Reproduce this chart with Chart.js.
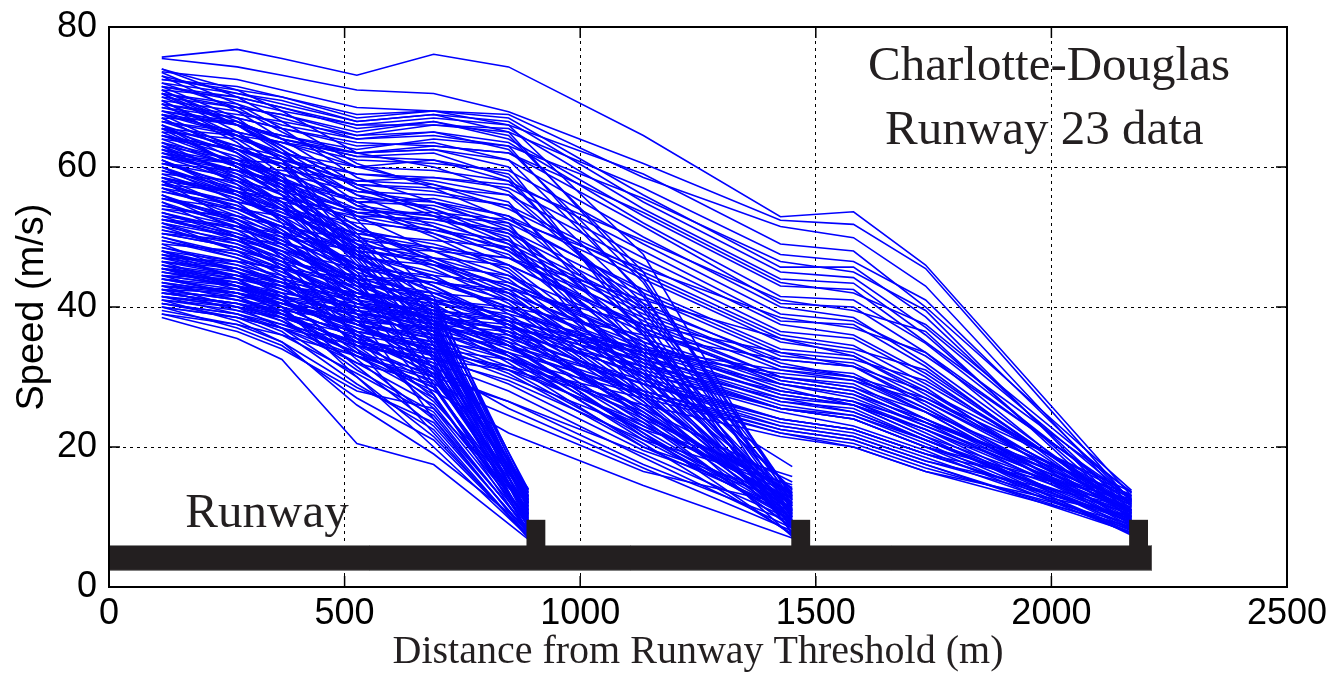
<!DOCTYPE html>
<html>
<head>
<meta charset="utf-8">
<script src="https://cdn.jsdelivr.net/npm/chart.js@4.4.1/dist/chart.umd.min.js"></script>
<style>
html,body{margin:0;padding:0;background:#fff;}
#wrap{width:1331px;height:676px;position:relative;}
</style>
</head>
<body>
<div id="wrap"><canvas id="c" width="1331" height="676"></canvas></div>
<script>
// ---- tick labels ----
const xTickValues = [0, 500, 1000, 1500, 2000, 2500];
const yTickValues = [0, 20, 40, 60, 80];

// ---- runway geometry (metres / m/s units) ----
const runwayExtent = [0, 2213];
const runwayBand = [2.3, 6.0];
const exitStarts = [886, 1448, 2165];
const exitWidth = 40;
const exitTop = 9.6;

// ---- trajectories that leave at the first exit ----
const exit1Distance = [112, 272, 367, 526, 689, 890];
const exit1Speeds = [
  [38.5, 35.5, 32.5, 20.5, 17.5, 6.8],
  [40.0, 37.0, 34.5, 27.0, 21.0, 7.4],
  [40.5, 38.5, 36.0, 30.5, 24.5, 8.2],
  [41.5, 39.0, 36.5, 29.0, 22.5, 7.0],
  [42.0, 40.5, 38.0, 32.0, 26.0, 9.5],
  [42.5, 39.5, 37.5, 33.5, 28.5, 10.8],
  [43.5, 41.0, 39.5, 34.0, 27.5, 8.8],
  [44.0, 42.0, 40.0, 35.5, 30.5, 11.6],
  [45.0, 43.5, 41.0, 36.0, 31.0, 12.4],
  [45.5, 42.5, 40.5, 37.0, 33.0, 13.2],
  [46.0, 44.0, 42.5, 38.5, 34.5, 12.0],
  [47.0, 44.5, 42.0, 35.0, 29.0, 9.2],
  [48.5, 46.0, 43.5, 37.5, 32.0, 10.4],
  [49.5, 47.0, 45.0, 39.5, 35.5, 13.6],
  [50.5, 48.5, 46.0, 40.5, 36.5, 11.2],
  [51.5, 48.0, 45.5, 38.0, 31.5, 8.6],
  [52.5, 50.0, 47.5, 42.0, 38.0, 12.8],
  [53.5, 50.5, 48.0, 41.0, 34.0, 9.8],
  [54.5, 52.0, 49.5, 44.0, 39.5, 13.9],
  [55.5, 52.5, 49.0, 42.5, 36.0, 10.6],
  [56.5, 54.0, 51.5, 45.5, 40.5, 11.9],
  [57.5, 54.5, 51.0, 43.0, 33.5, 8.4],
  [58.5, 55.5, 52.5, 46.0, 37.5, 12.6],
  [59.5, 56.0, 53.0, 44.5, 35.0, 9.0],
  [60.5, 57.5, 54.5, 47.5, 41.0, 13.4],
  [61.5, 58.0, 54.0, 45.0, 32.5, 7.8],
  [62.5, 59.5, 56.0, 48.5, 38.5, 11.4],
  [63.5, 60.0, 57.5, 46.5, 36.5, 10.2],
  [64.5, 61.5, 58.0, 49.0, 39.0, 12.2],
  [65.5, 62.0, 58.5, 47.0, 34.5, 9.4],
  [66.5, 63.0, 60.0, 50.5, 40.0, 13.0],
  [67.5, 64.5, 61.0, 48.0, 37.0, 10.0],
  [44.5, 41.5, 38.5, 31.0, 25.0, 8.0],
  [41.0, 38.0, 35.0, 28.5, 23.5, 7.6],
  [46.5, 43.0, 39.0, 33.0, 27.0, 9.6],
  [48.0, 45.5, 43.0, 36.5, 30.0, 11.0],
  [43.0, 40.0, 37.0, 30.0, 20.0, 7.2],
  [39.5, 37.5, 35.0, 26.0, 19.0, 8.4],
  [57.0, 53.0, 50.0, 41.5, 28.5, 9.2],
  [62.0, 58.5, 55.0, 44.0, 30.0, 10.4],
  [50.0, 47.0, 44.0, 34.5, 26.5, 11.8],
  [53.0, 49.5, 46.5, 39.0, 33.0, 12.2],
  [70.5, 65.0, 61.0, 50.0, 38.0, 11.0],
  [69.0, 63.5, 59.0, 47.5, 35.5, 9.6],
  [66.0, 60.0, 56.0, 44.0, 29.0, 8.0],
  [63.0, 57.5, 52.0, 40.0, 27.5, 7.6],
  [60.0, 55.0, 50.5, 39.0, 24.0, 7.2],
  [58.0, 52.0, 47.0, 35.5, 25.5, 8.8],
  [55.0, 50.0, 45.5, 34.0, 22.0, 7.0],
  [52.0, 48.0, 44.5, 36.0, 27.0, 9.8],
  [49.0, 45.0, 41.5, 32.5, 24.0, 8.4],
  [47.5, 44.0, 41.0, 33.5, 28.5, 10.6],
  [45.5, 43.0, 40.0, 31.5, 23.0, 7.8],
  [43.0, 41.5, 39.0, 34.5, 30.0, 12.6],
  [41.5, 40.0, 38.5, 35.0, 31.5, 13.8],
  [40.0, 38.5, 37.0, 33.0, 29.5, 12.8],
  [39.0, 36.5, 34.0, 28.0, 25.5, 11.2],
  [44.0, 43.0, 41.5, 37.5, 33.5, 14.0],
  [46.5, 45.0, 43.5, 39.0, 36.0, 13.0],
  [51.0, 49.0, 47.0, 42.5, 37.0, 12.0],
  [54.0, 51.5, 49.0, 43.5, 37.5, 11.6],
  [61.0, 56.0, 52.5, 43.5, 33.0, 10.2],
  [67.0, 62.0, 57.0, 46.0, 31.0, 9.0],
  [71.5, 67.0, 62.5, 52.5, 41.5, 12.4],
  [56.0, 51.0, 47.5, 38.0, 30.5, 10.8],
  [48.0, 44.0, 40.0, 30.0, 21.5, 7.4]
];

// ---- trajectories that leave at the second exit ----
const exit2Distance = [112, 272, 367, 526, 689, 848, 1134, 1450];
const exit2Speeds = [
  [72.5, 71.5, 70.0, 67.0, 68.0, 66.0, 47.5, 11.6],
  [71.5, 70.0, 68.5, 65.5, 66.5, 64.5, 45.0, 10.2],
  [70.0, 68.5, 67.5, 64.5, 65.0, 62.5, 43.5, 12.8],
  [69.0, 67.0, 65.5, 63.0, 63.5, 61.0, 42.0, 9.0],
  [68.0, 66.5, 64.0, 61.5, 61.0, 59.0, 40.5, 13.4],
  [67.5, 65.0, 63.5, 60.0, 59.5, 58.0, 38.5, 8.2],
  [66.5, 64.5, 62.0, 59.0, 58.0, 56.0, 39.5, 11.0],
  [65.5, 63.0, 61.5, 57.5, 56.5, 54.5, 36.5, 10.0],
  [64.5, 62.5, 60.0, 56.5, 55.0, 53.0, 37.0, 12.4],
  [63.5, 61.0, 59.0, 55.0, 54.5, 51.5, 35.0, 9.4],
  [62.5, 60.5, 58.5, 54.0, 52.5, 50.5, 34.0, 14.0],
  [61.5, 59.0, 57.0, 53.0, 51.0, 48.5, 33.5, 7.8],
  [60.5, 58.5, 56.0, 52.5, 50.5, 47.5, 32.0, 11.8],
  [59.5, 57.0, 55.5, 51.0, 49.0, 46.0, 31.5, 10.6],
  [58.5, 56.5, 54.0, 50.5, 48.5, 45.5, 30.0, 13.0],
  [57.5, 55.0, 53.5, 49.0, 47.0, 44.0, 29.5, 8.8],
  [56.5, 54.5, 52.0, 48.0, 46.5, 43.0, 30.5, 17.2],
  [55.5, 53.0, 51.5, 47.5, 45.0, 42.0, 28.0, 9.6],
  [54.5, 52.5, 50.5, 46.0, 44.0, 41.0, 27.5, 12.0],
  [53.5, 51.0, 49.5, 45.5, 43.5, 40.0, 26.5, 7.2],
  [52.5, 50.5, 48.5, 44.0, 42.0, 38.5, 26.0, 11.2],
  [51.5, 49.5, 47.0, 43.5, 41.5, 37.5, 25.0, 10.4],
  [50.5, 48.5, 46.5, 42.0, 40.0, 36.5, 24.5, 13.6],
  [49.5, 47.5, 45.5, 41.5, 39.0, 35.5, 23.5, 8.6],
  [48.5, 46.5, 44.0, 40.5, 38.5, 34.5, 23.0, 12.6],
  [47.5, 45.5, 43.5, 39.5, 37.0, 33.5, 22.0, 9.8],
  [46.5, 44.5, 42.5, 38.5, 36.5, 32.5, 21.5, 11.4],
  [45.5, 43.5, 41.5, 37.5, 35.0, 31.0, 20.5, 7.6],
  [44.5, 43.0, 40.5, 36.5, 34.5, 30.5, 20.0, 10.8],
  [43.5, 42.0, 40.0, 35.5, 33.0, 29.0, 19.5, 12.2],
  [42.5, 41.0, 39.0, 34.5, 32.0, 28.0, 18.5, 8.4],
  [41.5, 40.0, 38.0, 33.5, 30.5, 26.5, 17.5, 9.2],
  [40.5, 39.0, 37.0, 32.0, 29.0, 24.5, 16.5, 11.6],
  [44.0, 42.0, 39.5, 33.0, 28.0, 22.0, 14.5, 7.0],
  [46.0, 43.0, 41.0, 36.0, 31.5, 25.5, 17.0, 8.0],
  [64.0, 60.0, 57.0, 50.0, 46.0, 41.5, 30.0, 10.8],
  [70.5, 66.0, 62.5, 56.0, 51.5, 48.0, 34.5, 12.0],
  [66.0, 62.5, 60.5, 54.5, 53.0, 50.0, 27.0, 9.0],
  [68.5, 66.0, 64.5, 62.0, 62.5, 60.0, 36.0, 13.8],
  [62.0, 59.5, 58.0, 55.5, 55.0, 52.0, 28.5, 10.0],
  [59.0, 55.5, 53.0, 47.0, 43.0, 38.0, 24.0, 8.4],
  [56.0, 52.0, 49.0, 43.0, 39.5, 35.0, 21.5, 9.6],
  [42.0, 40.5, 38.5, 35.0, 32.5, 29.5, 21.0, 14.6],
  [45.0, 43.0, 41.0, 37.0, 34.0, 30.0, 22.5, 15.8],
  [48.0, 45.0, 42.5, 38.0, 35.5, 31.5, 23.0, 13.2],
  [52.0, 49.0, 46.0, 41.0, 38.0, 33.0, 22.5, 10.2],
  [58.0, 54.0, 51.0, 45.0, 41.0, 36.0, 25.5, 11.0],
  [61.0, 57.0, 54.0, 47.5, 44.5, 39.0, 26.5, 9.2],
  [74.0, 71.0, 68.0, 62.0, 60.0, 56.5, 40.0, 12.6],
  [73.5, 69.0, 65.5, 58.5, 55.0, 51.0, 36.0, 10.4],
  [71.0, 66.5, 63.0, 57.0, 54.0, 49.5, 33.0, 9.4],
  [69.5, 64.5, 61.0, 54.5, 50.0, 45.0, 30.5, 8.6],
  [67.0, 62.0, 58.0, 51.5, 47.0, 42.5, 29.0, 11.6],
  [65.0, 60.5, 56.5, 49.5, 45.5, 40.5, 27.0, 13.2],
  [63.0, 59.0, 55.0, 48.0, 43.0, 37.0, 24.5, 9.8],
  [60.0, 56.0, 52.5, 45.5, 40.5, 34.5, 22.0, 7.4],
  [57.0, 53.5, 50.5, 44.5, 40.0, 33.0, 21.0, 10.0],
  [55.0, 51.5, 48.5, 42.5, 38.0, 32.0, 20.0, 12.8],
  [50.0, 47.5, 45.0, 40.5, 37.5, 33.5, 24.0, 14.2],
  [47.0, 45.5, 43.5, 40.0, 37.5, 34.5, 25.5, 15.0],
  [43.0, 42.0, 40.5, 37.5, 35.5, 32.5, 24.5, 13.4],
  [41.0, 40.0, 39.0, 36.5, 34.0, 31.0, 23.5, 12.2],
  [39.0, 37.5, 36.0, 33.0, 30.0, 26.5, 19.0, 9.6],
  [45.5, 44.5, 43.0, 39.5, 36.5, 33.0, 25.0, 11.8],
  [52.5, 50.0, 48.0, 43.5, 41.0, 37.5, 27.5, 10.6],
  [58.5, 56.0, 54.0, 50.0, 48.0, 44.5, 32.5, 12.4],
  [61.5, 59.5, 57.5, 53.5, 52.0, 49.0, 31.0, 8.8],
  [64.5, 62.5, 61.0, 58.0, 57.5, 55.0, 33.5, 10.8],
  [67.5, 66.0, 64.0, 61.5, 62.0, 58.5, 37.5, 7.6],
  [70.5, 69.0, 67.0, 64.0, 64.5, 63.0, 41.5, 11.2],
  [72.0, 70.5, 69.5, 66.5, 67.5, 65.0, 44.0, 13.0]
];

// ---- trajectories that leave at the third exit ----
const exit3Distance = [112, 272, 367, 526, 689, 848, 1134, 1425, 1580, 1733, 2170];
const exit3Speeds = [
  [75.7, 76.8, 75.5, 73.1, 76.1, 74.3, 64.5, 52.9, 53.6, 46.0, 13.0],
  [75.5, 74.3, 73.1, 71.0, 70.5, 67.9, 60.5, 52.4, 51.8, 45.5, 12.2],
  [73.6, 72.5, 71.0, 68.5, 68.0, 67.5, 58.5, 51.5, 49.9, 43.0, 11.5],
  [72.5, 71.0, 70.0, 67.5, 68.0, 67.0, 56.0, 45.7, 45.7, 38.6, 11.0],
  [73.0, 70.5, 69.0, 66.5, 67.5, 66.5, 55.0, 45.0, 44.2, 37.1, 12.6],
  [71.0, 70.0, 68.5, 66.0, 66.0, 65.5, 54.0, 44.0, 43.4, 36.0, 10.4],
  [70.5, 68.5, 67.5, 65.0, 66.5, 64.0, 53.0, 43.0, 42.5, 35.0, 13.6],
  [69.5, 68.0, 66.0, 64.0, 65.0, 63.5, 52.0, 41.5, 41.0, 34.8, 11.8],
  [68.5, 67.0, 65.5, 63.5, 63.0, 62.0, 51.5, 40.5, 40.0, 33.5, 9.6],
  [67.0, 66.5, 64.0, 62.0, 62.5, 61.0, 50.0, 40.0, 38.5, 32.0, 10.8],
  [66.5, 65.0, 63.5, 61.0, 60.5, 59.5, 49.0, 39.0, 38.0, 33.0, 12.8],
  [65.0, 64.0, 62.0, 60.0, 61.0, 58.0, 48.0, 38.0, 37.5, 31.5, 9.8],
  [64.0, 62.5, 61.0, 59.0, 58.5, 57.0, 47.0, 37.5, 36.0, 30.5, 11.2],
  [63.0, 61.0, 60.5, 57.5, 57.0, 56.0, 46.0, 36.5, 35.5, 30.0, 10.2],
  [62.0, 60.5, 59.0, 56.5, 56.0, 54.5, 45.0, 36.0, 34.5, 29.0, 12.2],
  [60.5, 59.5, 58.0, 55.0, 55.5, 53.0, 44.0, 35.0, 33.5, 28.5, 8.8],
  [59.0, 58.0, 56.5, 54.0, 53.0, 52.0, 42.5, 34.0, 33.0, 27.5, 10.0],
  [58.0, 56.5, 55.0, 53.0, 52.5, 51.0, 41.5, 33.0, 32.0, 27.0, 11.6],
  [57.0, 55.0, 54.0, 52.0, 51.0, 49.5, 40.0, 32.5, 31.5, 26.0, 9.2],
  [55.5, 54.0, 53.0, 50.5, 49.5, 48.5, 39.0, 31.5, 30.5, 25.5, 10.6],
  [54.0, 53.0, 51.5, 49.5, 48.5, 47.0, 38.5, 31.0, 29.5, 25.0, 8.6],
  [53.0, 51.5, 50.0, 48.0, 47.0, 46.0, 37.5, 30.0, 29.0, 24.0, 12.0],
  [52.0, 50.0, 49.0, 47.0, 46.0, 44.5, 36.5, 29.5, 28.0, 23.5, 9.0],
  [50.5, 49.5, 48.0, 45.5, 44.5, 43.5, 35.5, 29.0, 27.5, 23.0, 10.8],
  [49.0, 48.0, 46.5, 44.5, 43.5, 42.0, 34.5, 28.0, 26.5, 22.0, 8.2],
  [48.0, 46.5, 45.5, 43.0, 42.0, 41.0, 33.5, 27.5, 26.0, 21.5, 11.0],
  [46.5, 45.5, 44.0, 42.0, 41.0, 39.5, 33.0, 27.0, 25.0, 21.0, 9.6],
  [45.5, 44.0, 43.0, 41.0, 39.5, 38.5, 32.0, 26.0, 24.5, 20.5, 8.0],
  [45.0, 43.5, 42.0, 40.0, 38.5, 37.5, 31.0, 25.5, 24.0, 20.0, 10.4],
  [44.0, 42.5, 41.5, 39.0, 37.5, 36.5, 30.5, 25.0, 23.0, 19.5, 7.6],
  [43.5, 42.0, 40.5, 38.0, 37.0, 35.5, 29.5, 24.0, 22.5, 19.0, 9.4],
  [42.5, 41.0, 40.0, 37.5, 36.0, 34.5, 29.0, 23.5, 22.0, 18.5, 8.4],
  [42.0, 40.5, 39.0, 36.5, 35.0, 33.5, 28.0, 23.0, 21.5, 18.0, 10.0],
  [41.0, 39.5, 38.5, 36.0, 34.0, 32.5, 27.5, 22.5, 21.0, 17.5, 7.8],
  [40.5, 39.0, 37.5, 35.0, 33.5, 31.5, 27.0, 22.0, 20.5, 17.0, 9.0],
  [40.0, 38.5, 37.0, 34.5, 32.5, 31.0, 26.0, 21.5, 20.0, 16.5, 8.6],
  [70.0, 66.0, 63.0, 57.0, 53.0, 48.0, 38.0, 30.0, 28.5, 24.0, 9.8],
  [66.0, 61.0, 57.5, 51.0, 46.5, 42.0, 34.0, 27.5, 26.0, 22.5, 11.4],
  [72.0, 68.5, 65.0, 60.0, 57.5, 54.0, 44.5, 35.5, 33.0, 28.0, 10.6],
  [62.5, 58.0, 55.0, 49.0, 44.0, 40.0, 32.5, 26.5, 25.5, 21.0, 8.7],
  [58.5, 54.0, 51.5, 46.0, 42.5, 38.0, 31.5, 25.5, 24.0, 20.0, 12.4],
  [68.0, 64.5, 61.5, 56.0, 54.0, 50.5, 40.5, 32.0, 30.0, 25.5, 9.4],
  [64.5, 60.5, 58.0, 53.5, 51.5, 47.0, 37.0, 29.0, 27.0, 23.0, 11.8],
  [60.0, 56.5, 53.5, 48.5, 46.0, 43.0, 35.0, 28.5, 26.0, 21.5, 7.4],
  [46.0, 44.5, 43.5, 42.0, 40.5, 39.0, 34.0, 30.0, 28.5, 25.0, 12.8],
  [44.5, 43.0, 42.0, 40.5, 39.5, 38.0, 33.5, 29.0, 27.5, 24.0, 11.0],
  [42.5, 42.0, 41.0, 39.5, 38.5, 37.0, 32.5, 28.0, 26.5, 23.5, 13.2],
  [41.5, 40.5, 39.5, 38.0, 37.0, 36.0, 31.5, 27.0, 26.0, 22.5, 10.2],
  [69.0, 67.5, 66.5, 64.5, 66.0, 65.0, 57.0, 47.5, 46.5, 41.0, 12.4],
  [71.5, 69.5, 68.0, 66.0, 67.0, 66.0, 59.0, 49.0, 48.0, 40.0, 13.8],
  [74.0, 70.0, 66.5, 60.5, 57.0, 52.5, 42.0, 33.5, 31.5, 26.5, 11.0],
  [73.0, 68.0, 64.0, 57.5, 53.5, 49.0, 39.5, 31.5, 30.0, 25.0, 9.0],
  [71.0, 66.0, 62.0, 55.0, 50.5, 46.0, 37.0, 29.5, 28.0, 23.5, 12.2],
  [69.5, 64.0, 60.0, 53.0, 48.0, 43.5, 35.0, 28.0, 26.5, 22.5, 8.4],
  [67.5, 62.5, 58.5, 51.5, 46.5, 41.0, 33.0, 26.5, 25.0, 21.0, 10.6],
  [65.5, 60.0, 56.0, 49.0, 44.0, 39.5, 32.0, 25.5, 24.0, 20.0, 7.8],
  [63.5, 58.5, 54.5, 47.0, 42.0, 37.5, 30.0, 24.0, 22.5, 19.0, 9.8],
  [61.0, 56.5, 52.5, 45.5, 41.0, 36.0, 29.0, 23.0, 21.5, 18.0, 11.4],
  [56.0, 52.5, 49.5, 43.5, 39.0, 34.5, 28.0, 22.5, 21.0, 17.5, 8.2],
  [53.5, 50.0, 47.5, 42.0, 38.0, 34.0, 27.5, 22.0, 20.0, 16.5, 10.2],
  [51.0, 48.5, 46.0, 41.5, 38.5, 35.0, 29.0, 24.0, 22.5, 19.0, 12.6],
  [47.5, 46.0, 44.5, 41.5, 39.0, 36.5, 30.5, 25.5, 24.5, 21.0, 9.2],
  [43.0, 42.5, 41.5, 40.0, 39.0, 38.0, 34.0, 31.0, 30.0, 27.0, 13.6],
  [42.0, 41.5, 40.5, 39.0, 38.0, 37.0, 33.5, 30.5, 29.5, 26.5, 12.0],
  [44.5, 44.0, 43.0, 41.5, 41.0, 40.0, 36.0, 32.5, 31.5, 28.0, 13.0],
  [47.0, 46.5, 45.5, 44.0, 43.5, 42.5, 37.5, 33.5, 32.5, 29.5, 11.8],
  [52.5, 51.5, 50.5, 48.5, 48.0, 47.0, 41.0, 35.5, 34.0, 31.0, 10.8],
  [57.5, 56.5, 55.5, 53.5, 53.5, 52.5, 45.5, 38.5, 37.0, 33.5, 12.4],
  [61.5, 60.5, 59.5, 58.0, 58.5, 57.5, 49.5, 41.0, 39.5, 36.5, 9.4],
  [65.5, 64.5, 63.5, 62.0, 63.0, 62.0, 53.5, 43.5, 42.0, 37.5, 13.4],
  [68.0, 66.0, 64.5, 62.5, 64.0, 63.0, 55.5, 46.5, 45.0, 39.5, 10.0]
];

// ---- build datasets from the arrays ----
const LINE_BLUE = '#0000ff';
const datasets = [];
function addGroup(distance, speeds) {
  speeds.forEach(function (track) {
    datasets.push({
      data: track.map(function (v, i) { return { x: distance[i], y: v }; }),
      borderColor: LINE_BLUE,
      borderWidth: 1.6,
      pointRadius: 0,
      pointHoverRadius: 0,
      fill: false,
      tension: 0
    });
  });
}
addGroup(exit1Distance, exit1Speeds);
addGroup(exit2Distance, exit2Speeds);
addGroup(exit3Distance, exit3Speeds);

const INK = '#231f20';

const overlay = {
  id: 'overlay',
  afterDatasetsDraw(chart) {
    const { ctx, chartArea: a, scales: { x, y } } = chart;
    ctx.save();
    // runway bar
    const rx0 = x.getPixelForValue(runwayExtent[0]);
    const rx1 = x.getPixelForValue(runwayExtent[1]);
    const ryTop = y.getPixelForValue(runwayBand[1]);
    const ryBot = y.getPixelForValue(runwayBand[0]);
    ctx.fillStyle = INK;
    ctx.fillRect(rx0, ryTop, rx1 - rx0, ryBot - ryTop);
    ctx.strokeStyle = '#8a8a8a';
    ctx.lineWidth = 1;
    ctx.beginPath();
    ctx.moveTo(rx0, ryTop + 0.5); ctx.lineTo(rx1, ryTop + 0.5);
    ctx.moveTo(rx0, ryBot - 0.5); ctx.lineTo(rx1, ryBot - 0.5);
    ctx.stroke();
    // exit markers
    exitStarts.forEach(function (ex) {
      const ex0 = x.getPixelForValue(ex);
      const ex1 = x.getPixelForValue(ex + exitWidth);
      const et = y.getPixelForValue(exitTop);
      ctx.fillStyle = INK;
      ctx.fillRect(ex0, et, ex1 - ex0, ryTop - et + 1);
    });
    // axes box
    ctx.strokeStyle = '#000';
    ctx.lineWidth = 2;
    ctx.strokeRect(a.left, a.top, a.right - a.left, a.bottom - a.top);
    // inner tick marks on all four sides
    const tl = 11;
    ctx.lineWidth = 1.5;
    ctx.beginPath();
    xTickValues.forEach(function (v) {
      const px = x.getPixelForValue(v);
      ctx.moveTo(px, a.bottom); ctx.lineTo(px, a.bottom - tl);
      ctx.moveTo(px, a.top); ctx.lineTo(px, a.top + tl);
    });
    yTickValues.forEach(function (v) {
      const py = y.getPixelForValue(v);
      ctx.moveTo(a.left, py); ctx.lineTo(a.left + tl, py);
      ctx.moveTo(a.right, py); ctx.lineTo(a.right - tl, py);
    });
    ctx.stroke();
    // annotations
    ctx.fillStyle = INK;
    ctx.textBaseline = 'alphabetic';
    ctx.font = '49px "Liberation Serif"';
    ctx.textAlign = 'center';
    ctx.fillText('Charlotte-Douglas', x.getPixelForValue(1995), y.getPixelForValue(72.4));
    ctx.fillText('Runway 23 data', x.getPixelForValue(1985), y.getPixelForValue(63.3));
    ctx.textAlign = 'left';
    ctx.fillText('Runway', x.getPixelForValue(162), y.getPixelForValue(8.6));
    ctx.restore();
  }
};

new Chart(document.getElementById('c'), {
  type: 'line',
  data: { datasets: datasets },
  options: {
    responsive: false,
    animation: false,
    devicePixelRatio: 1,
    events: [],
    layout: { padding: { left: 0, right: 44, top: 27, bottom: 0 } },
    plugins: { legend: { display: false }, tooltip: { enabled: false }, title: { display: false } },
    scales: {
      x: {
        type: 'linear',
        min: 0,
        max: 2500,
        afterBuildTicks: function (s) { s.ticks = xTickValues.map(function (v) { return { value: v }; }); },
        afterFit: function (s) { s.height = 89; s.paddingLeft = 0; s.paddingRight = 0; },
        ticks: { font: { family: 'Liberation Sans', size: 36 }, color: '#000', padding: 5, maxRotation: 0, autoSkip: false,
                 callback: function (v) { return String(v); } },
        grid: { color: '#000', lineWidth: 1, drawTicks: false },
        border: { display: false, dash: [3, 4] },
        title: { display: true, text: 'Distance from Runway Threshold (m)', color: INK,
                 font: { family: 'Liberation Serif', size: 40, lineHeight: 1.2 }, padding: { top: 0, bottom: 0 } }
      },
      y: {
        type: 'linear',
        min: 0,
        max: 80,
        afterBuildTicks: function (s) { s.ticks = yTickValues.map(function (v) { return { value: v }; }); },
        afterFit: function (s) { s.width = 109; s.paddingTop = 0; s.paddingBottom = 0; },
        ticks: { font: { family: 'Liberation Sans', size: 36 }, color: '#000', padding: 12, autoSkip: false,
                 callback: function (v) { return String(v); } },
        grid: { color: '#000', lineWidth: 1, drawTicks: false },
        border: { display: false, dash: [3, 4] },
        title: { display: true, text: 'Speed (m/s)', color: '#000',
                 font: { family: 'Liberation Sans', size: 38, lineHeight: 1.2 }, padding: { top: 10, bottom: 0 } }
      }
    }
  },
  plugins: [overlay]
});
</script>
</body>
</html>
